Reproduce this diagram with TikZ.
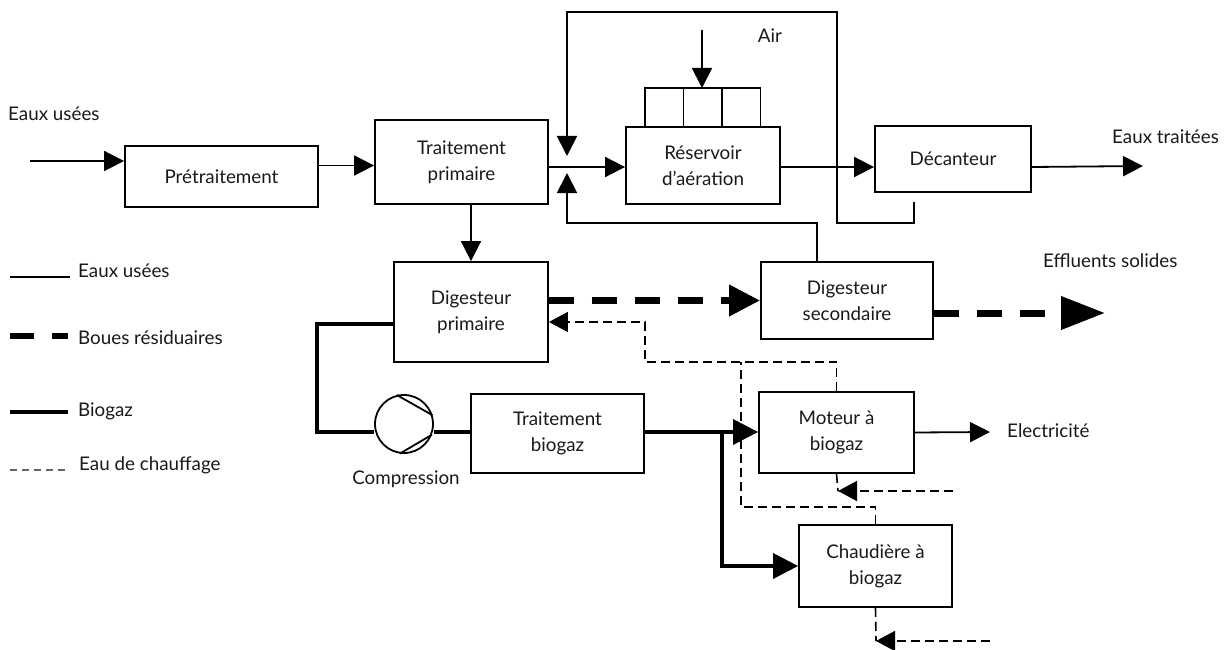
\documentclass[tikz,border=0pt]{standalone}
\usepackage{fontspec}
\setmainfont{Lato}
\usetikzlibrary{arrows.meta}

\tikzset{
  box/.style={draw, line width=1.8pt, inner sep=0pt, align=center},
  flow/.style={line width=1.8pt, -{Triangle[length=20pt,width=20pt]}},
  pipe/.style={line width=1.6pt},
  sludge/.style={line width=7pt, dash pattern=on 25pt off 18pt},
  sludgetip/.style={-{Triangle[length=31pt,width=30pt]}},
  gas/.style={line width=3.4pt},
  gastip/.style={-{Triangle[length=25pt,width=25pt]}},
  heat/.style={line width=1.6pt, dash pattern=on 9pt off 5pt},
  heattip/.style={-{Triangle[length=19pt,width=20pt]}},
  lbl/.style={inner sep=0pt}
}

\begin{document}
\begin{tikzpicture}[x=1pt, y=-1pt, font=\fontsize{18.8}{26}\selectfont, text=black!90]
\useasboundingbox (0,0) rectangle (1224,650);

% boxes
\node [box, minimum width=193pt, minimum height=61pt] (pre) at (221.5,176.5) {Prétraitement};
\node [box, minimum width=173pt, minimum height=84pt] (prim) at (461.5,162) {Traitement\\primaire};
\node [box, minimum width=154pt, minimum height=77pt] (aer) at (703,165.5) {Réservoir\\d’aération};
\node [box, minimum width=156pt, minimum height=66pt] (dec) at (953,159) {Décanteur};
\node [box, minimum width=154pt, minimum height=100pt] (dig1) at (471,312) {Digesteur\\primaire};
\node [box, minimum width=172pt, minimum height=77pt] (dig2) at (847,300.5) {Digesteur\\secondaire};
\node [box, minimum width=173pt, minimum height=79pt] (trb) at (557.5,433.5) {Traitement\\biogaz};
\node [box, minimum width=155pt, minimum height=81pt] (mot) at (836.5,432.5) {Moteur à\\biogaz};
\node [box, minimum width=153pt, minimum height=82pt] (chd) at (875.5,566) {Chaudière à\\biogaz};
\node [draw, circle, line width=1.8pt, minimum size=58pt, inner sep=0pt] (comp) at (404,424) {};
\draw [line width=1.8pt] (comp.104) -- (comp.17);
\draw [line width=1.8pt] (comp.-98) -- (comp.-21);

% diffusers
\foreach \x in {645,683.5,722}
	\draw [line width=1.8pt] (\x,88) rectangle +(38.5,39);

% coordinates
\coordinate (in) at (30,161);
\coordinate (jn) at (567,167);
\coordinate (airin) at (702,30);
\coordinate (diff) at (702,88);
\coordinate (out) at (1143,166);
\coordinate (decout) at (914,202);
\coordinate (rc) at (837,223);
\coordinate (tc) at (837,12);
\coordinate (ret) at (567,223);
\coordinate (solout) at (1105,313);
\coordinate (hw1) at (645,362);
\coordinate (hw2) at (741,507);
\coordinate (motin) at (838,491);
\coordinate (motsrc) at (953,491);
\coordinate (chdin) at (876,641);
\coordinate (chdsrc) at (990,641);
\coordinate (bg1) at (317,432);
\coordinate (split) at (722,432);
\coordinate (elec) at (990,432);

% waste water
\draw [flow] (in) -- (in -| pre.west);
\draw [flow] ([yshift=11pt]pre.east) -- ([yshift=11pt]pre.east -| prim.west);
\draw [flow] (jn -| prim.east) -- (jn -| aer.west);
\draw [flow] (jn -| aer.east) -- (jn -| dec.west);
\draw [flow] (jn -| dec.east) -- (out);
\draw [flow] (airin) -- (diff);
\draw [flow] (decout) |- (rc) -- (tc) -| ([yshift=11pt]jn);
\draw [flow] ([xshift=-30pt]dig2.north) |- (ret) -- ([yshift=-6pt]jn);
\draw [flow] (dig1.north |- prim.south) -- (dig1.north);
\draw [flow] (mot.east) -- (elec);

% sludge
\draw [sludge, sludgetip] (dig2.west -| dig1.east) -- (dig2.west);
\draw [sludge, -{Triangle[length=44pt,width=32pt]}] ([yshift=-12.5pt]dig2.east) -- (solout);

% biogas
\draw [gas] ([yshift=-12pt]dig1.west) -| (bg1) -- (bg1 -| comp.west);
\draw [gas] (bg1 -| comp.east) -- (bg1 -| trb.west);
\draw [gas, gastip] (bg1 -| trb.east) -- (bg1 -| mot.west);
\draw [gas, gastip] (split) |- (chd.west);

% heating water
\draw [heat, heattip] (mot.north) |- (hw1) |- ([yshift=-10pt]dig1.east);
\draw [heat] (chd.north) |- (hw2) -- (hw2 |- hw1);
\draw [heat] (mot.south) -- (motin);
\draw [heat, heattip] (motsrc) -- (motin);
\draw [heat] (chd.south) -- (chdin);
\draw [heat, heattip] (chdsrc) -- (chdin);

% labels
\node [lbl, anchor=west] (l1) at (8,114) {Eaux usées};
\node [lbl] (l2) at (770,36) {Air};
\node [lbl, anchor=west] (l3) at (1112,137) {Eaux traitées};
\node [lbl, anchor=west] (l4) at (1043,261) {Effluents solides};
\node [lbl, anchor=west] (l5) at (1007,431) {Electricité};
\node [lbl] (l6) at (406,479) {Compression};

% legend
\draw [pipe] (10,277) -- (70,277);
\draw [sludge, line width=6.5pt, dash pattern=on 24pt off 18pt] (10,336) -- (68,336);
\draw [gas] (10,412) -- (68,412);
\draw [heat, black!60, dash pattern=on 7pt off 5pt] (10,470) -- (68,470);
\node [lbl, anchor=west] (g1) at (78,271) {Eaux usées};
\node [lbl, anchor=west] (g2) at (78,338) {Boues résiduaires};
\node [lbl, anchor=west] (g3) at (78,411) {Biogaz};
\node [lbl, anchor=west] (g4) at (79,465) {Eau de chauffage};
\end{tikzpicture}
\end{document}
